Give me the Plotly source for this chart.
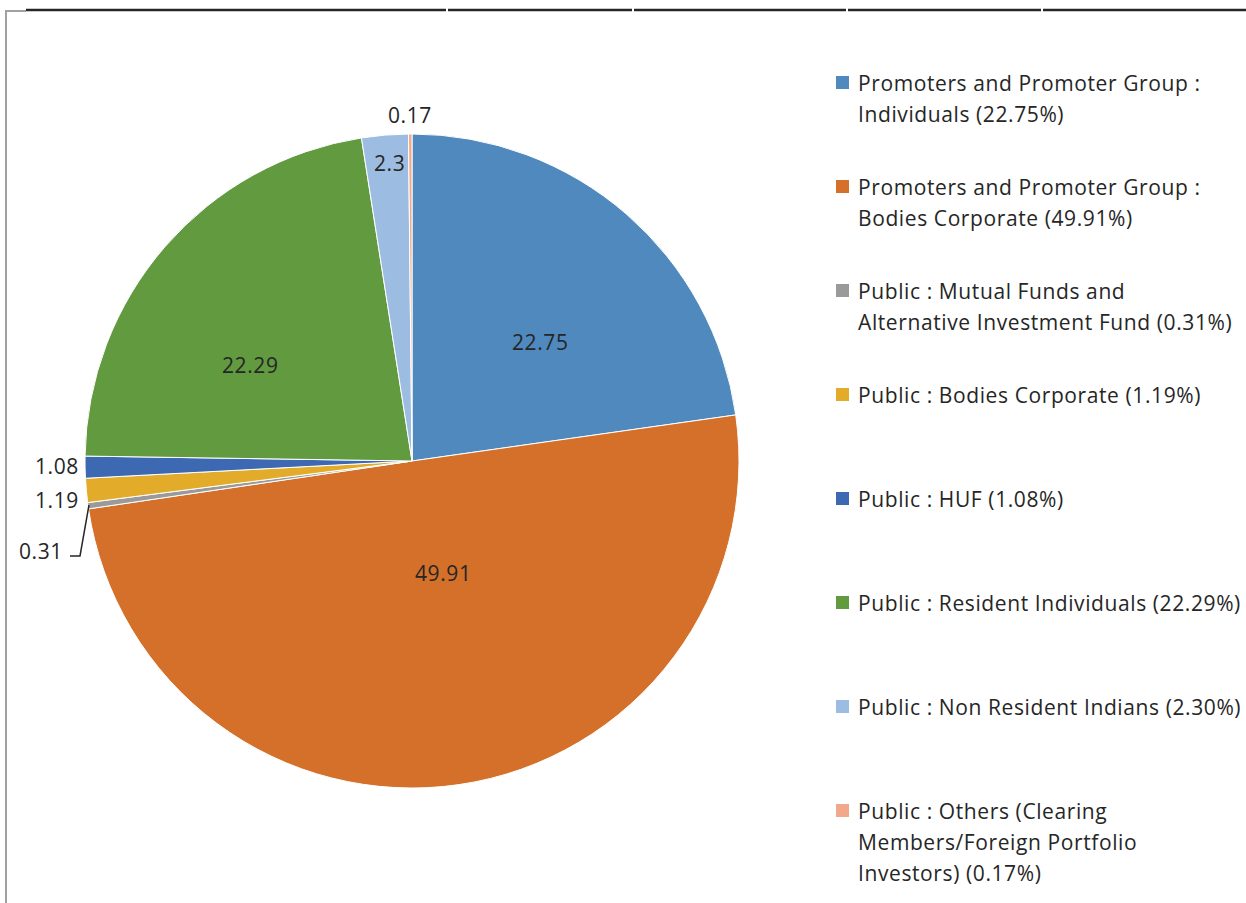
import plotly.graph_objects as go

# ---- data ----
categories = [
    "Promoters and Promoter Group : Individuals",
    "Promoters and Promoter Group : Bodies Corporate",
    "Public : Mutual Funds and Alternative Investment Fund",
    "Public : Bodies Corporate",
    "Public : HUF",
    "Public : Resident Individuals",
    "Public : Non Resident Indians",
    "Public : Others (Clearing Members/Foreign Portfolio Investors)",
]
values = [22.75, 49.91, 0.31, 1.19, 1.08, 22.29, 2.30, 0.17]
value_labels = ["22.75", "49.91", "0.31", "1.19", "1.08", "22.29", "2.3", "0.17"]
legend_lines = [
    ["Promoters and Promoter Group :", "Individuals (22.75%)"],
    ["Promoters and Promoter Group :", "Bodies Corporate (49.91%)"],
    ["Public : Mutual Funds and", "Alternative Investment Fund (0.31%)"],
    ["Public : Bodies Corporate (1.19%)"],
    ["Public : HUF (1.08%)"],
    ["Public : Resident Individuals (22.29%)"],
    ["Public : Non Resident Indians (2.30%)"],
    ["Public : Others (Clearing", "Members/Foreign Portfolio", "Investors) (0.17%)"],
]
colors = ["#4F89BD", "#D4702A", "#9A9A9A", "#E2AC2A", "#3D68B2", "#629A40", "#9CBDE1", "#F2A98B"]

W, H = 1246, 903
FONT = "'Open Sans', 'Noto Sans', sans-serif"
TXT = "#262626"
FS = 21

def px(x):
    return x / W

def py(y):
    return 1 - y / H

def spaced(t):
    return f'<span style="letter-spacing:0.6px">{t}</span>'

cx, cy, r = 412, 461, 327

fig = go.Figure()
fig.add_trace(go.Pie(
    labels=categories,
    values=values,
    sort=False,
    direction="clockwise",
    rotation=0,
    textinfo="none",
    hoverinfo="label+value",
    marker=dict(colors=colors, line=dict(color="white", width=1)),
    domain=dict(x=[px(cx - r), px(cx + r)], y=[py(cy + r), py(cy - r)]),
    showlegend=False,
))

annotations = []
# slice value labels (pixel positions of label centres)
label_pos = [(540, 342), (443, 573), (41, 551), (57, 500), (57, 466), (250, 365), (389, 163), (410, 115)]
for txt, (lx, ly) in zip(value_labels, label_pos):
    annotations.append(dict(
        x=px(lx), y=py(ly), xref="paper", yref="paper", text=spaced(txt), showarrow=False,
        xanchor="center", yanchor="middle", font=dict(family=FONT, size=FS, color=TXT),
    ))

shapes = []
# leader line for 0.31
shapes.append(dict(type="path", xref="paper", yref="paper",
                   path=f"M {px(70)} {py(556)} L {px(80)} {py(556)} L {px(89)} {py(505)}",
                   line=dict(color="#262626", width=1.5)))

# custom legend
for i, (lines, col) in enumerate(zip(legend_lines, colors)):
    base = 83 + 104 * i
    shapes.append(dict(type="rect", xref="paper", yref="paper",
                       x0=px(836), x1=px(849), y0=py(base + 6), y1=py(base - 7),
                       line=dict(width=0), fillcolor=col))
    for j, ln in enumerate(lines):
        annotations.append(dict(
            x=px(856), y=py(base + 31 * j), xref="paper", yref="paper", text=spaced(ln),
            showarrow=False, xanchor="left", yanchor="middle",
            font=dict(family=FONT, size=FS, color=TXT),
        ))

# frame lines (spreadsheet cell borders)
seg_x = [26, 446, 448, 632, 634, 846, 848, 1041, 1043, 1246]
for a, b in zip(seg_x[0::2], seg_x[1::2]):
    shapes.append(dict(type="line", xref="paper", yref="paper", x0=px(a), x1=px(b), y0=py(10), y1=py(10),
                       line=dict(color="#262626", width=2.5)))
shapes.append(dict(type="line", xref="paper", yref="paper", x0=px(5), x1=px(26), y0=py(11), y1=py(11),
                   line=dict(color="#A0A0A0", width=2)))
shapes.append(dict(type="line", xref="paper", yref="paper", x0=px(6), x1=px(6), y0=py(11), y1=py(903),
                   line=dict(color="#A0A0A0", width=2)))

fig.update_layout(
    width=W, height=H, autosize=False,
    margin=dict(l=0, r=0, t=0, b=0),
    paper_bgcolor="white", plot_bgcolor="white",
    annotations=annotations, shapes=shapes,
    showlegend=False,
)

fig.write_html("out.html", config={"displayModeBar": False},
               post_script="document.body.style.margin='0';document.body.style.overflow='hidden';")
